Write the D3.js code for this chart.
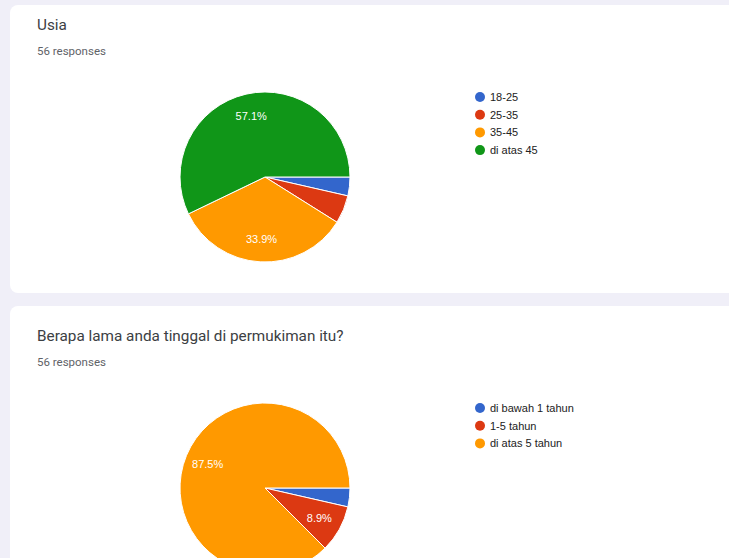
<!DOCTYPE html>
<html>
<head>
<meta charset="utf-8">
<script src="https://cdn.jsdelivr.net/npm/d3@7"></script>
<style>
  body { margin: 0; background: #f0eff8; }
  svg { display: block; }
</style>
</head>
<body>
<div id="chart"></div>
<script>
// question 1: Usia
var q1Title = "Usia";
var q1Labels = ["18-25", "25-35", "35-45", "di atas 45"];
var q1Values = [2, 3, 19, 32];

// question 2: lama tinggal
var q2Title = "Berapa lama anda tinggal di permukiman itu?";
var q2Labels = ["di bawah 1 tahun", "1-5 tahun", "di atas 5 tahun"];
var q2Values = [2, 5, 49];

var responses = "56 responses";
var colors = ["#3366cc", "#dc3912", "#ff9900", "#109618"];

var width = 729, height = 558;
var svg = d3.select("#chart").append("svg")
  .attr("width", width)
  .attr("height", height);

function drawCard(cardTop, cardH, top, title, labels, values) {
  svg.append("rect")
    .attr("x", 10)
    .attr("y", cardTop)
    .attr("width", 740)
    .attr("height", cardH)
    .attr("rx", 8)
    .style("fill", "#ffffff");

  var g = svg.append("g").attr("transform", "translate(0," + top + ")");

  g.append("text")
    .attr("x", 37)
    .attr("y", 25)
    .text(title)
    .style("font-family", "Roboto, Arial, sans-serif")
    .style("font-size", "15.3px")
    .style("fill", "#3c4043");

  g.append("text")
    .attr("x", 37)
    .attr("y", 50)
    .text(responses)
    .style("font-family", "Roboto, Arial, sans-serif")
    .style("font-size", "11.5px")
    .style("fill", "#5f6368");

  var radius = 85;
  var cx = 265, cy = 172;
  var color = d3.scaleOrdinal().domain(labels).range(colors);
  var total = d3.sum(values);

  var pie = d3.pie()
    .sort(null)
    .startAngle(Math.PI / 2)
    .endAngle(Math.PI / 2 + 2 * Math.PI)
    .value(function(d, i) { return values[i]; });

  var arc = d3.arc().innerRadius(0).outerRadius(radius);
  var labelArc = d3.arc().innerRadius(radius * 0.73).outerRadius(radius * 0.73);

  var pg = g.append("g").attr("transform", "translate(" + cx + "," + cy + ")");
  var arcs = pie(labels);

  pg.selectAll("path")
    .data(arcs)
    .enter()
    .append("path")
    .attr("d", arc)
    .style("fill", function(d) { return color(d.data); })
    .style("stroke", "#ffffff")
    .style("stroke-width", "1px");

  // percentage labels, only for the bigger slices
  pg.selectAll("text")
    .data(arcs.filter(function(d) { return d.value / total > 0.07; }))
    .enter()
    .append("text")
    .attr("transform", function(d) { return "translate(" + labelArc.centroid(d) + ")"; })
    .attr("dy", "0.35em")
    .attr("text-anchor", "middle")
    .text(function(d) { return (d.value / total * 100).toFixed(1) + "%"; })
    .style("font-family", "Arial, 'Liberation Sans', sans-serif")
    .style("font-size", "11px")
    .style("fill", "#ffffff");

  // legend
  var leg = g.append("g").attr("transform", "translate(480,92)");
  var items = leg.selectAll("g")
    .data(labels)
    .enter()
    .append("g")
    .attr("transform", function(d, i) { return "translate(0," + (i * 17.7) + ")"; });

  items.append("circle")
    .attr("r", 5)
    .style("fill", function(d) { return color(d); });

  items.append("text")
    .attr("x", 10)
    .attr("dy", "0.35em")
    .text(function(d) { return d; })
    .style("font-family", "Arial, 'Liberation Sans', sans-serif")
    .style("font-size", "11px")
    .style("fill", "#222222");
}

drawCard(5, 288, 5, q1Title, q1Labels, q1Values);
drawCard(306, 300, 316, q2Title, q2Labels, q2Values);
</script>
</body>
</html>
